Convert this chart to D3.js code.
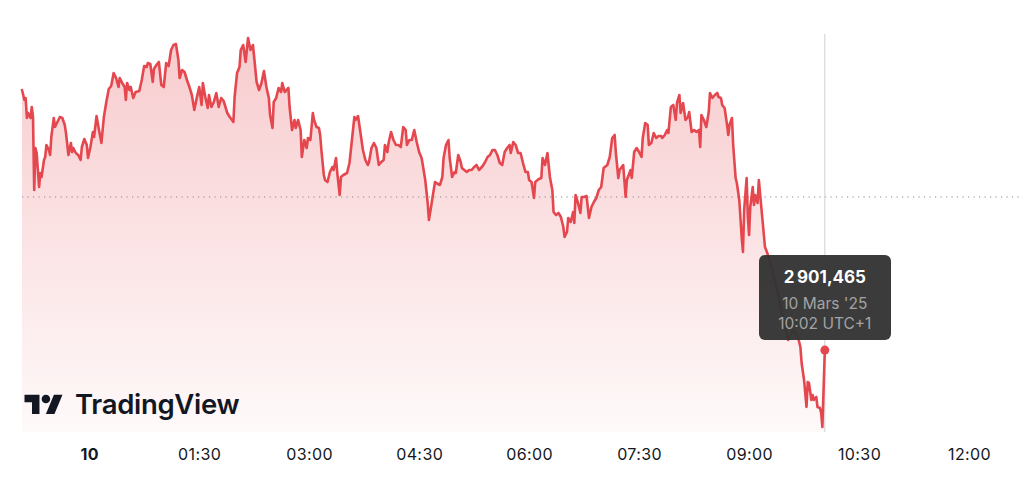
<!DOCTYPE html>
<html>
<head>
<meta charset="utf-8">
<script src="https://cdn.jsdelivr.net/npm/d3@7/dist/d3.min.js"></script>
<style>
  html, body { margin: 0; padding: 0; background: #ffffff; }
  svg { display: block; }
</style>
</head>
<body>
<svg id="chart" width="1024" height="492"></svg>
<script>
// ---- DATA (minutes relative to 00:00 on 10 March, index value) ----
const times = [-55,-53,-52,-51,-50,-48,-47,-46,-45,-44,-43,-41,-40,-39,-37,-36,-35,-33,-32,-31,-29,-28,-26,-24,-22,-20,-19,-17,-15,-14,-13,-11,-9,-7,-6,-4,-2,-1,
1,3,4,6,8,10,12,14,16,18,20,22,24,25,27,29,30,31,33,34,36,38,41,43,45,47,48,50,52,53,55,57,59,61,63,65,67,69,71,73,74,76,78,80,82,84,86,88,
90,92,93,95,97,98,100,102,104,106,108,110,113,115,118,119,121,123,124,126,128,130,132,134,137,139,141,143,145,147,148,150,151,153,155,157,158,160,163,164,166,168,169,171,173,174,176,178,179,
181,183,184,186,188,189,190,192,193,195,197,199,200,202,203,205,206,208,211,213,215,217,218,220,222,224,226,228,229,231,233,235,237,239,241,242,244,245,247,249,251,253,255,257,259,260,262,264,266,268,
270,272,273,275,277,278,280,281,283,284,287,289,290,292,294,295,297,299,300,302,304,305,307,309,311,313,315,317,319,322,324,326,328,330,332,334,336,338,340,342,344,345,347,349,351,353,355,357,359,
360,362,364,365,368,370,371,373,375,377,379,380,382,384,386,388,389,391,392,394,396,397,398,400,402,403,405,407,409,411,413,415,417,419,421,424,426,428,430,431,433,434,437,439,440,443,444,446,448,
450,452,453,455,457,458,460,462,464,466,468,469,471,473,474,476,478,480,481,483,484,486,488,490,491,493,495,497,499,500,501,503,505,507,508,510,512,514,515,517,518,520,522,523,524,526,527,529,530,532,534,535,536,538,
539,540,541,543,544,545,547,548,550,551,553,554,556,560,564,568,572,576,580,582,583,585,587,588,589,591,592,593,595,596,598,599,600,602];

const values = [3031.5,3026.5,3027.5,3017.5,3020,3017.5,3023,3018,2981.5,3002.5,3000,2983,2990,2988,2996.5,2998,3004,3001.5,2999,3008,3017.5,3013,3015.5,3018,3017.5,3014,3010,2999,3005,3000.5,3002.5,3000,2999,2996.5,3003,3007,3004,2997.5,
3003,3010.5,3008,3018.5,3011.5,3005,3018,3025.5,3032,3033.5,3040,3037.5,3033,3037.5,3035,3033,3026.5,3035,3031.5,3033,3027.5,3030.5,3031,3036.5,3043.5,3043,3045,3044.5,3035.5,3042,3044,3045.5,3034,3033,3045,3043.5,3051.5,3054,3054.5,3046.5,3037.5,3041.5,3040.5,3036.5,3033,3029,3021.5,3027.5,
3033,3024,3035,3028,3022.5,3029,3023,3025.5,3030,3023,3027.5,3026,3020,3018,3015.5,3028,3040,3043,3051.5,3054,3045.5,3057.5,3051.5,3054,3035.5,3031.5,3035,3041,3033,3027.5,3019,3012.5,3025.5,3027.5,3032.5,3030.5,3035,3030.5,3032.5,3023,3011.5,3016.5,3012.5,3016.5,3011.5,2998,3006.5,3002.5,3007.5,
3006.5,3020,3016.5,3013,3012.5,3009,3001.5,2989,2986.5,2985.5,2990.5,2993,2991.5,2997.5,2990,2979,2988,2989,2990,2995,3006.5,3018,3016.5,3018.5,3010,3001.5,2996.5,2994,2995.5,3002.5,3005,3002.5,2994,2995.5,2996.5,3004,3000.5,3005,3010.5,3006.5,3004,3004,3003,3013,3011.5,3004,3006.5,3006.5,3011.5,3005.5,
3000.5,2997.5,2994,2986.5,2975,2966.5,2974,2978,2985.5,2985,2984,2988,2997.5,3004,3006.5,2997.5,2988,2990.5,2990,2999,2995.5,2992.5,2991.5,2990.5,2991.5,2991.5,2993,2994,2991.5,2993.5,2995.5,2998,2999,3001.5,3001.5,2999,2995,2994,3000.5,3002.5,3004,3000,3005.5,3004,3000,3000,2995,2990.5,2990.5,
2986.5,2985.5,2977.5,2985.5,2987,2987.5,2997.5,2994,3000,2988,2981.5,2970.5,2969,2970,2968,2963,2958,2960.5,2967.5,2965.5,2970.5,2965,2979,2975,2970,2978,2978,2978.5,2967.5,2973,2975.5,2977.5,2981.5,2983,2992.5,2994,2998,3007.5,3009,3000,2987.5,2991.5,2994,2978,2986.5,2991.5,2987.5,3000.5,3002.5,
3000.5,2998,3007.5,3015,3014,3004,3005,3010,3007.5,3008.5,3008.5,3007.5,3009,3011.5,3010,3023,3024,3016.5,3025,3029,3020,3025,3016.5,3018,3020.5,3010.5,3011.5,3010.5,3011.5,3003,3019,3016.5,3013,3020.5,3030,3027.5,3029,3030,3028,3027.5,3024,3022.5,3014,3009,3014,3017.5,3004,2987.5,2985,2976.5,2957.5,2950.5,2971.5,2987.5,
2968,2959,2973,2983,2974,2979,2975,2986.5,2973,2966.5,2953,2951.5,2948,2939,2929,2916.5,2906.5,2911.5,2908,2903,2895,2886.5,2873,2885.5,2885,2876.5,2879,2876.5,2878,2873,2872.5,2870,2863,2901.465];

const prevClose = 2978;
const tickMinutes = [0, 90, 180, 270, 360, 450, 540, 630, 720];
const tickLabels = ["10", "01:30", "03:00", "04:30", "06:00", "07:30", "09:00", "10:30", "12:00"];
const tooltipLines = ["2\u202F901,465", "10 Mars '25", "10:02 UTC+1"];
const brandName = "TradingView";

// ---- CHART ----
const data = times.map((t, i) => ({ t, v: values[i] }));
const svg = d3.select("#chart");
const x = d3.scaleLinear().domain([-55, 760]).range([22, 1017.9]);
const y = d3.scaleLinear().domain([2861.5, 3061.5]).range([430, 30]);
const fillBottom = 432;
const red = "#e5474f";
const font = "Inter, 'Noto Sans', sans-serif";

const defs = svg.append("defs");
const grad = defs.append("linearGradient")
  .attr("id", "areaGrad").attr("gradientUnits", "userSpaceOnUse")
  .attr("x1", 0).attr("x2", 0).attr("y1", 40).attr("y2", fillBottom);
grad.append("stop").attr("offset", "0%").attr("stop-color", red).attr("stop-opacity", 0.28);
grad.append("stop").attr("offset", "100%").attr("stop-color", red).attr("stop-opacity", 0.03);

const area = d3.area().x(d => x(d.t)).y0(fillBottom).y1(d => y(d.v));
const line = d3.line().x(d => x(d.t)).y(d => y(d.v));

svg.append("path").datum(data).attr("d", area).attr("fill", "url(#areaGrad)");

// previous close dotted line
svg.append("line")
  .attr("x1", x(-55)).attr("x2", 1020)
  .attr("y1", y(prevClose)).attr("y2", y(prevClose))
  .attr("stroke", "#8a8a8a").attr("stroke-width", 1.2)
  .attr("stroke-dasharray", "1.2,4.3");

// crosshair
const last = data[data.length - 1];
svg.append("line")
  .attr("x1", x(last.t)).attr("x2", x(last.t))
  .attr("y1", 34).attr("y2", 432)
  .attr("stroke", "#d0d0d0").attr("stroke-width", 1);

svg.append("path").datum(data).attr("d", line)
  .attr("fill", "none").attr("stroke", red).attr("stroke-width", 2.6)
  .attr("stroke-linejoin", "round").attr("stroke-linecap", "round");

// x axis labels
const axis = d3.axisBottom(x).tickValues(tickMinutes)
  .tickFormat((d, i) => tickLabels[i]).tickSize(0).tickPadding(0);
const ax = svg.append("g").attr("transform", "translate(0,446)").call(axis);
ax.select(".domain").remove();
ax.selectAll("text")
  .attr("dy", "0.85em")
  .attr("fill", "#131722")
  .style("font-family", font)
  .style("font-size", "16px")
  .style("letter-spacing", "0.4px")
  .style("font-weight", (d, i) => i === 0 ? 700 : 400);

// logo
const logo = svg.append("g").attr("transform", "translate(24.5,390.5) scale(1.07)");
logo.append("path").attr("d", "M14 22H7V11H0V4h14v18zM28 22h-8l7.5-18h8L28 22z").attr("fill", "#131722");
logo.append("circle").attr("cx", 20).attr("cy", 8).attr("r", 4).attr("fill", "#131722");
svg.append("text").attr("x", 75).attr("y", 414)
  .attr("fill", "#131722")
  .style("font-family", font)
  .style("font-size", "27.5px").style("font-weight", 600)
  .style("letter-spacing", "-0.3px")
  .text(brandName);

// tooltip
const tx = x(last.t);
svg.append("rect").attr("x", 759).attr("y", 255).attr("width", 132).attr("height", 85)
  .attr("rx", 6).attr("fill", "#333333").attr("fill-opacity", 0.96);
svg.append("text").attr("x", tx).attr("y", 283).attr("text-anchor", "middle")
  .attr("fill", "#ffffff").style("font-family", font)
  .style("font-size", "17px").style("font-weight", 700).style("letter-spacing", "0.4px")
  .text(tooltipLines[0]);
svg.append("text").attr("x", tx).attr("y", 309).attr("text-anchor", "middle")
  .attr("fill", "#a3a3a3").style("font-family", font)
  .style("font-size", "15.5px").text(tooltipLines[1]);
svg.append("text").attr("x", tx).attr("y", 328.5).attr("text-anchor", "middle")
  .attr("fill", "#a3a3a3").style("font-family", font)
  .style("font-size", "15.5px").text(tooltipLines[2]);

// marker
svg.append("circle").attr("cx", tx).attr("cy", y(last.v)).attr("r", 4.5).attr("fill", red);
</script>
</body>
</html>
